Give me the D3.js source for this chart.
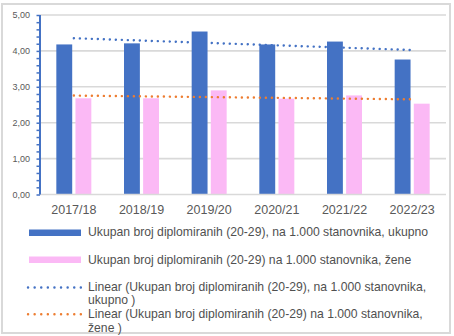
<!DOCTYPE html>
<html>
<head>
<meta charset="utf-8">
<script src="https://cdn.jsdelivr.net/npm/d3@7"></script>
<style>
  html, body { margin: 0; padding: 0; background: #fff; }
  svg { display: block; font-family: "Liberation Sans", Arial, sans-serif; }
</style>
</head>
<body>
<svg id="chart" width="454" height="336"></svg>
<script>
const categories = ["2017/18", "2018/19", "2019/20", "2020/21", "2021/22", "2022/23"];
const ukupno = [4.18, 4.21, 4.54, 4.18, 4.26, 3.76];
const zene = [2.68, 2.68, 2.90, 2.67, 2.76, 2.53];
const yTickValues = [0, 1, 2, 3, 4, 5];
const seriesNames = ["ukupno", "zene"];
const legendLines = [
  ["Ukupan broj diplomiranih (20-29), na 1.000 stanovnika, ukupno"],
  ["Ukupan broj diplomiranih (20-29) na 1.000 stanovnika, žene"],
  ["Linear (Ukupan broj diplomiranih (20-29), na 1.000 stanovnika,", "ukupno )"],
  ["Linear (Ukupan broj diplomiranih (20-29) na 1.000 stanovnika,", "žene )"]
];
const colors = { ukupno: "#4472C4", zene: "#FBB9F5", trendU: "#4472C4", trendZ: "#ED7D31" };

(function () {
const svg = d3.select("#chart");
const plotL = 40, plotR = 446, plotT = 15, plotB = 194.5;

// border
svg.append("rect").attr("x", 2).attr("y", 4).attr("width", 448).attr("height", 329)
  .attr("fill", "none").attr("stroke", "#d9d9d9").attr("stroke-width", 2);

const x = d3.scaleBand().domain(categories).range([plotL, plotR]).padding(0);
const groupW = 35;
const xs = d3.scaleBand().domain(seriesNames).range([0, groupW]).paddingInner(0.17);
const y = d3.scaleLinear().domain([0, 5]).range([plotB, plotT]);

// gridlines
svg.append("g").selectAll("line").data(yTickValues.filter(d => d > 0)).join("line")
  .attr("x1", plotL).attr("x2", plotR)
  .attr("y1", d => y(d)).attr("y2", d => y(d))
  .attr("stroke", "#d9d9d9").attr("stroke-width", 1.6);

// bars
const data = categories.map((c, i) => ({ c, ukupno: ukupno[i], zene: zene[i] }));
const groups = svg.append("g").selectAll("g").data(data).join("g")
  .attr("transform", d => `translate(${x(d.c) + (x.bandwidth() - groupW) / 2},0)`);
groups.selectAll("rect").data(d => seriesNames.map(k => ({ k, v: d[k] }))).join("rect")
  .attr("x", d => xs(d.k)).attr("width", xs.bandwidth())
  .attr("y", d => y(d.v)).attr("height", d => y(0) - y(d.v))
  .attr("fill", d => colors[d.k]);

// x axis line
svg.append("line").attr("x1", plotL).attr("x2", plotR).attr("y1", plotB).attr("y2", plotB)
  .attr("stroke", "#d9d9d9").attr("stroke-width", 1.6);

// y axis (blue) with minor ticks
const yAxis = d3.axisLeft(y).tickValues(d3.range(0, 26).map(i => i * 0.2)).tickSize(3.5).tickFormat("");
const ya = svg.append("g").attr("transform", `translate(${plotL},0)`).call(yAxis);
ya.select(".domain").attr("stroke", "#4472C4").attr("stroke-width", 2).attr("d", `M0,${plotT}V${plotB}`);
ya.selectAll(".tick line").attr("stroke", "#4472C4").attr("stroke-width", 1.5);

// y labels
svg.append("g").selectAll("text").data(yTickValues).join("text")
  .attr("x", 30).attr("y", d => y(d)).attr("dy", "0.35em")
  .attr("text-anchor", "end").attr("font-size", 9).attr("fill", "#595959")
  .text(d => d.toFixed(2).replace(".", ","));

// x labels
const xAxis = d3.axisBottom(x).tickSize(0).tickPadding(0);
const xa = svg.append("g").attr("transform", `translate(0,${plotB})`).call(xAxis);
xa.select(".domain").remove();
xa.selectAll("text").attr("y", 19).attr("dy", 0).attr("font-size", 12.5)
  .attr("fill", "#595959").attr("font-family", "Liberation Sans, Arial, sans-serif");

// linear trendlines (least squares)
function trend(vals) {
  const xv = vals.map((_, i) => i + 1);
  const mx = d3.mean(xv), my = d3.mean(vals);
  const sxy = d3.sum(xv, (v, i) => (v - mx) * (vals[i] - my));
  const sxx = d3.sum(xv, v => (v - mx) ** 2);
  const b = sxy / sxx, a = my - b * mx;
  return categories.map((c, i) => ({ c, v: a + b * (i + 1) }));
}
const line = d3.line().x(d => x(d.c) + x.bandwidth() / 2).y(d => y(d.v));
[[ukupno, colors.trendU], [zene, colors.trendZ]].forEach(([vals, col]) => {
  svg.append("path").datum(trend(vals)).attr("d", line)
    .attr("fill", "none").attr("stroke", col).attr("stroke-width", 2.4)
    .attr("stroke-linecap", "round").attr("stroke-dasharray", "0.1 5.9");
});

// legend
const legendX = 88;
const legendBase = [236, 263.5, 290.6, 318.0];
const lineH = 13.7;
const lg = svg.append("g");
legendLines.forEach((lines, i) => {
  lines.forEach((s, j) => {
    lg.append("text").attr("x", legendX).attr("y", legendBase[i] + j * lineH)
      .attr("font-size", 12.2).attr("fill", "#505050").text(s);
  });
});
lg.append("rect").attr("x", 29).attr("y", 229.5).attr("width", 52).attr("height", 6.5).attr("fill", colors.ukupno);
lg.append("rect").attr("x", 29).attr("y", 256.5).attr("width", 52).attr("height", 6.5).attr("fill", colors.zene);
[[287.5, colors.trendU], [314.3, colors.trendZ]].forEach(([yy, col]) => {
  lg.append("line").attr("x1", 28).attr("x2", 82).attr("y1", yy).attr("y2", yy)
    .attr("stroke", col).attr("stroke-width", 2.4).attr("stroke-linecap", "round")
    .attr("stroke-dasharray", "0.1 6.5");
});
})();
</script>
</body>
</html>
